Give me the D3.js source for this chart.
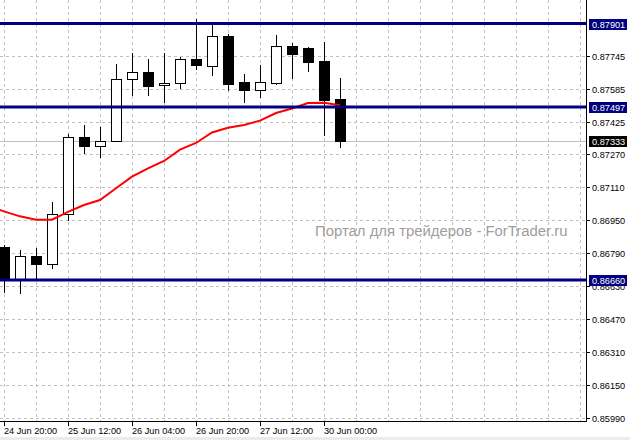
<!DOCTYPE html>
<html>
<head>
<meta charset="utf-8">
<script src="https://cdn.jsdelivr.net/npm/d3@7"></script>
<style>
  html, body { margin: 0; padding: 0; background: #ffffff; }
  svg { display: block; }
</style>
</head>
<body>
<svg id="chart" width="630" height="440"></svg>
<script>
// ---- data (EURGBP-like H4 candles) ----
const times = [
  "24 Jun 20:00","25 Jun 00:00","25 Jun 04:00","25 Jun 08:00","25 Jun 12:00","25 Jun 16:00",
  "25 Jun 20:00","26 Jun 00:00","26 Jun 04:00","26 Jun 08:00","26 Jun 12:00","26 Jun 16:00",
  "26 Jun 20:00","27 Jun 00:00","27 Jun 04:00","27 Jun 08:00","27 Jun 12:00","27 Jun 16:00",
  "27 Jun 20:00","29 Jun 20:00","30 Jun 00:00","30 Jun 04:00"
];
const open  = [0.86818,0.86663,0.86776,0.86739,0.86978,0.87353,0.87310,0.87331,0.87631,0.87666,0.87602,0.87612,
               0.87728,0.87697,0.87840,0.87618,0.87581,0.87615,0.87791,0.87781,0.87720,0.87536];
const high  = [0.86829,0.86805,0.86815,0.87036,0.87365,0.87410,0.87400,0.87705,0.87758,0.87729,0.87758,0.87739,
               0.87923,0.87897,0.87850,0.87657,0.87700,0.87845,0.87808,0.87788,0.87812,0.87637];
const low   = [0.86603,0.86599,0.86663,0.86720,0.86950,0.87276,0.87257,0.87331,0.87557,0.87557,0.87523,0.87590,
               0.87681,0.87653,0.87581,0.87520,0.87547,0.87610,0.87637,0.87671,0.87362,0.87305];
const close = [0.86663,0.86776,0.86739,0.86978,0.87350,0.87310,0.87331,0.87631,0.87666,0.87600,0.87612,0.87728,
               0.87698,0.87839,0.87610,0.87581,0.87618,0.87791,0.87753,0.87715,0.87532,0.87333];
// moving average, first value belongs to the bar before the first visible one
const maStart = -1;
const ma = [0.87020,0.86992,0.86968,0.86952,0.86952,0.86990,0.87023,0.87047,0.87104,0.87160,0.87200,0.87236,
            0.87291,0.87323,0.87374,0.87397,0.87410,0.87431,0.87468,0.87490,0.87516,0.87518,0.87505];
const tickIdx = [0,4,8,12,16,20];
const yTicks = [0.87745,0.87585,0.87425,0.87270,0.87110,0.86950,0.86790,0.86630,0.86470,0.86310,0.86150,0.85990];
const levels = [0.87901,0.87497,0.86660];
const currentPrice = 0.87333;
const watermark = "Портал для трейдеров - ForTrader.ru";

// ---- layout ----
const W = 630, H = 440;
const plotR = 586, plotB = 421;
const svg = d3.select("#chart");
const font = "'Liberation Sans', Arial, sans-serif";

const x = d3.scaleLinear().domain([-0.25, 36.375]).range([0, plotR]);
const y = d3.scaleLinear().domain([0.859779, 0.880147]).range([plotB, 0]);
const px = v => Math.round(v) + 0.5;

svg.append("rect").attr("x",0).attr("y",0).attr("width",W).attr("height",H).attr("fill","#ffffff");
svg.append("rect").attr("x",0).attr("y",437).attr("width",W).attr("height",3).attr("fill","#ececec");

const clip = svg.append("defs").append("clipPath").attr("id","plot")
  .append("rect").attr("x",0).attr("y",0).attr("width",plotR).attr("height",plotB);
const g = svg.append("g").attr("clip-path","url(#plot)");

// grid
const vGrid = d3.range(0, 37, 2);
g.selectAll("line.vg").data(vGrid).enter().append("line")
  .attr("x1", d => px(x(d))).attr("x2", d => px(x(d)))
  .attr("y1", 0).attr("y2", plotB)
  .attr("stroke","#c0c0c0").attr("stroke-dasharray","3,3");
g.selectAll("line.hg").data(yTicks).enter().append("line")
  .attr("x1", 0).attr("x2", plotR)
  .attr("y1", d => px(y(d))).attr("y2", d => px(y(d)))
  .attr("stroke","#c0c0c0").attr("stroke-dasharray","3,3");

// watermark
const wm = g.append("text").attr("x",315).attr("y",236)
  .attr("font-family", font).attr("font-size", 15).attr("fill","#a39c9c")
  .text(watermark);
const wl = wm.node().getComputedTextLength();
wm.attr("font-size", 15 * 253 / wl);

// current price line
g.append("line").attr("x1",0).attr("x2",plotR)
  .attr("y1", px(y(currentPrice))).attr("y2", px(y(currentPrice)))
  .attr("stroke","#c0c0c0");

// candles
const idx = d3.range(open.length);
const cg = g.selectAll("g.c").data(idx).enter().append("g");
cg.append("line")
  .attr("x1", i => px(x(i))).attr("x2", i => px(x(i)))
  .attr("y1", i => Math.round(y(high[i]))).attr("y2", i => Math.round(y(low[i])) + 1)
  .attr("stroke","#000");
cg.append("rect")
  .attr("x", i => px(x(i)) - 5)
  .attr("y", i => px(y(Math.max(open[i], close[i]))))
  .attr("width", 10)
  .attr("height", i => Math.max(1, Math.round(y(Math.min(open[i], close[i]))) - Math.round(y(Math.max(open[i], close[i])))))
  .attr("fill", i => close[i] >= open[i] ? "#ffffff" : "#000000")
  .attr("stroke","#000");

// moving average
const maLine = d3.line().x((d,i) => x(i + maStart)).y(d => y(d));
g.append("path").datum(ma).attr("d", maLine)
  .attr("fill","none").attr("stroke","#ff0000").attr("stroke-width",2);

// horizontal levels
g.selectAll("line.lv").data(levels).enter().append("line")
  .attr("x1",0).attr("x2",plotR)
  .attr("y1", d => y(d)).attr("y2", d => y(d))
  .attr("stroke","#000080").attr("stroke-width",3);

// axes frame
svg.append("line").attr("x1",plotR+0.5).attr("x2",plotR+0.5).attr("y1",0).attr("y2",plotB+1).attr("stroke","#000");
svg.append("line").attr("x1",0).attr("x2",plotR+1).attr("y1",plotB+0.5).attr("y2",plotB+0.5).attr("stroke","#000");

// right axis ticks
const ya = svg.append("g");
ya.selectAll("line").data(yTicks).enter().append("line")
  .attr("x1",plotR+1).attr("x2",plotR+4)
  .attr("y1", d => px(y(d))).attr("y2", d => px(y(d))).attr("stroke","#000");
ya.selectAll("text").data(yTicks).enter().append("text")
  .attr("x", 592).attr("y", d => Math.round(y(d)) + 4)
  .attr("font-family", font).attr("font-size", 9.2).attr("fill","#000")
  .text(d => d.toFixed(5));

// price boxes
const boxes = levels.map(v => ({v, fill:"#000080"})).concat([{v:currentPrice, fill:"#000000"}]);
const bg = svg.selectAll("g.box").data(boxes).enter().append("g");
bg.append("rect").attr("x",589).attr("y", d => Math.round(y(d.v)) - 5)
  .attr("width",38).attr("height",11).attr("fill", d => d.fill);
bg.append("text").attr("x",592).attr("y", d => Math.round(y(d.v)) + 4)
  .attr("font-family", font).attr("font-size", 9.2).attr("fill","#ffffff")
  .text(d => d.v.toFixed(5));

// bottom axis
const xa = svg.append("g");
xa.selectAll("line").data(tickIdx).enter().append("line")
  .attr("x1", i => px(x(i))).attr("x2", i => px(x(i)))
  .attr("y1", plotB+1).attr("y2", plotB+5).attr("stroke","#000");
xa.selectAll("text").data(tickIdx).enter().append("text")
  .attr("x", i => Math.round(x(i)))
  .attr("y", 434)
  .attr("font-family", font).attr("font-size", 9.2).attr("fill","#000")
  .text(i => times[i]);
</script>
</body>
</html>
